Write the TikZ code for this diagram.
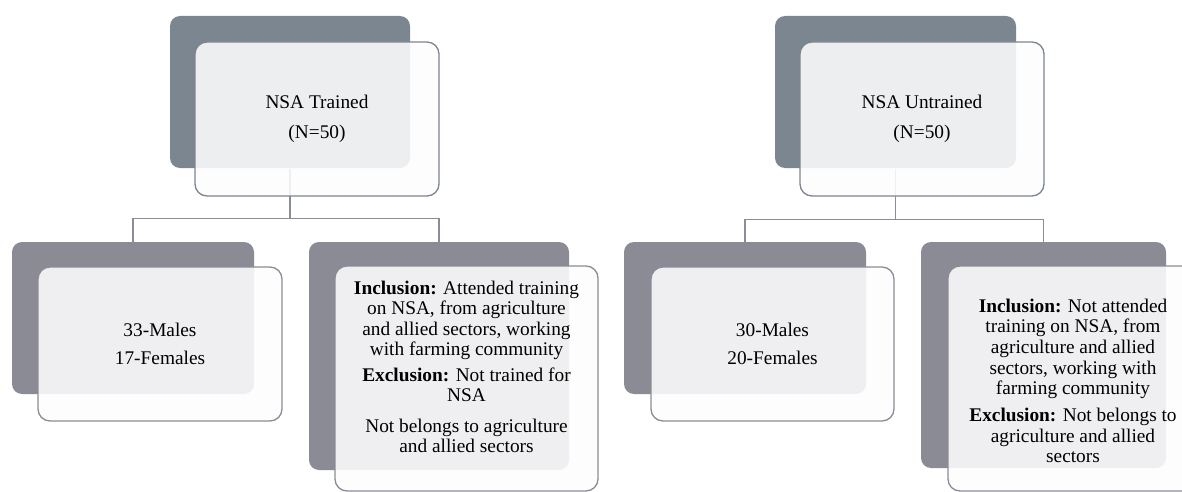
\documentclass[tikz,border=0pt]{standalone}
\usepackage{fontspec}
\setmainfont{Liberation Serif}
\usetikzlibrary{positioning}

\definecolor{slateA}{RGB}{123,134,145}
\definecolor{slateB}{RGB}{139,139,149}
\definecolor{edgeA}{RGB}{125,133,142}
\definecolor{edgeB}{RGB}{140,140,150}
\definecolor{paneFill}{RGB}{253,253,254}

\tikzset{every picture/.style={line width=0.75pt}}
\tikzset{
  backbox/.style={rounded corners=7.5pt, inner sep=0pt, fill=#1, draw=none},
  frontbox/.style={rounded corners=9pt, inner sep=0pt, fill=paneFill, fill opacity=0.88, draw=#1, line width=1pt},
  branch/.style={draw=edgeB, line width=1.2pt},
  toptext/.style={align=center, font=\fontsize{14.5}{22.5}\selectfont},
  boxtext/.style={align=center, font=\fontsize{14.5}{15.4}\selectfont}
}

\begin{document}
\begin{tikzpicture}[x=0.75pt,y=0.75pt,yscale=-1,xscale=1]
	\clip (0,0) rectangle (1182,492);

	%Shape: Rounded Rect [id:trained back] 
	\node [backbox=slateA, minimum width=180pt, minimum height=114pt] (trBack) at (290,92) {};
	%Shape: Rounded Rect [id:trained sex back] 
	\node [backbox=slateB, minimum width=181.5pt, minimum height=114pt] (trSexBack) at (133,318) {};
	%Shape: Rounded Rect [id:trained criteria back] 
	\node [backbox=slateB, minimum width=195pt, minimum height=171pt] (trCritBack) at (439,356) {};

	%Shape: Rounded Rect [id:untrained back] 
	\node [backbox=slateA, minimum width=180.75pt, minimum height=114pt] (unBack) at (895.5,92) {};
	%Shape: Rounded Rect [id:untrained sex back] 
	\node [backbox=slateB, minimum width=181.5pt, minimum height=114pt] (unSexBack) at (745,318) {};
	%Shape: Rounded Rect [id:untrained criteria back] 
	\node [backbox=slateB, minimum width=183.75pt, minimum height=169.5pt] (unCritBack) at (1043.5,355) {};

	%Straight Lines [id:trained branches] 
	\draw [branch] (trBack.south) -- ++(0,50) -| (trSexBack.north) ;
	\draw [branch] (trBack.south) ++(0,50) -| (trCritBack.north) ;
	%Straight Lines [id:untrained branches] 
	\draw [branch] (unBack.south) -- ++(0,51) -| (unSexBack.north) ;
	\draw [branch] (unBack.south) ++(0,51) -| (unCritBack.north) ;

	%Shape: Rounded Rect [id:trained front] 
	\node [frontbox=edgeA, minimum width=183pt, minimum height=115.5pt] (trFront) at (317,119) {};
	\node [frontbox=edgeB, minimum width=183pt, minimum height=115.5pt] (trSexFront) at (160,344) {};
	\node [frontbox=edgeB, minimum width=197.25pt, minimum height=168.75pt] (trCritFront) at (466.5,378.5) {};
	%Shape: Rounded Rect [id:untrained front] 
	\node [frontbox=edgeA, minimum width=183pt, minimum height=115.5pt] (unFront) at (922,119) {};
	\node [frontbox=edgeB, minimum width=182.25pt, minimum height=115.5pt] (unSexFront) at (772.5,344) {};
	\node [frontbox=edgeB, minimum width=187.5pt, minimum height=168.75pt] (unCritFront) at (1073,378.5) {};

	% Text Node
	\node [toptext] (trTitle) at (trFront) {NSA Trained\\(N=50)};
	% Text Node
	\node [toptext, font=\fontsize{14.5}{21.5}\selectfont] (trSex) at (trSexFront) {33-Males\\17-Females};
	% Text Node
	\node [boxtext] (trCrit) at (466.5,367) {\textbf{Inclusion:} Attended training\\on NSA, from agriculture\\and allied sectors, working\\with farming community\\[3.75pt]\textbf{Exclusion:} Not trained for\\NSA\\[7.5pt]Not belongs to agriculture\\and allied sectors};
	% Text Node
	\node [toptext] (unTitle) at (unFront) {NSA Untrained\\(N=50)};
	% Text Node
	\node [toptext, font=\fontsize{14.5}{21.5}\selectfont] (unSex) at (unSexFront) {30-Males\\20-Females};
	% Text Node
	\node [boxtext] (unCrit) at (1073,381) {\textbf{Inclusion:} Not attended\\training on NSA, from\\agriculture and allied\\sectors, working with\\farming community\\[5pt]\textbf{Exclusion:} Not belongs to\\agriculture and allied\\sectors};

\end{tikzpicture}
\end{document}
